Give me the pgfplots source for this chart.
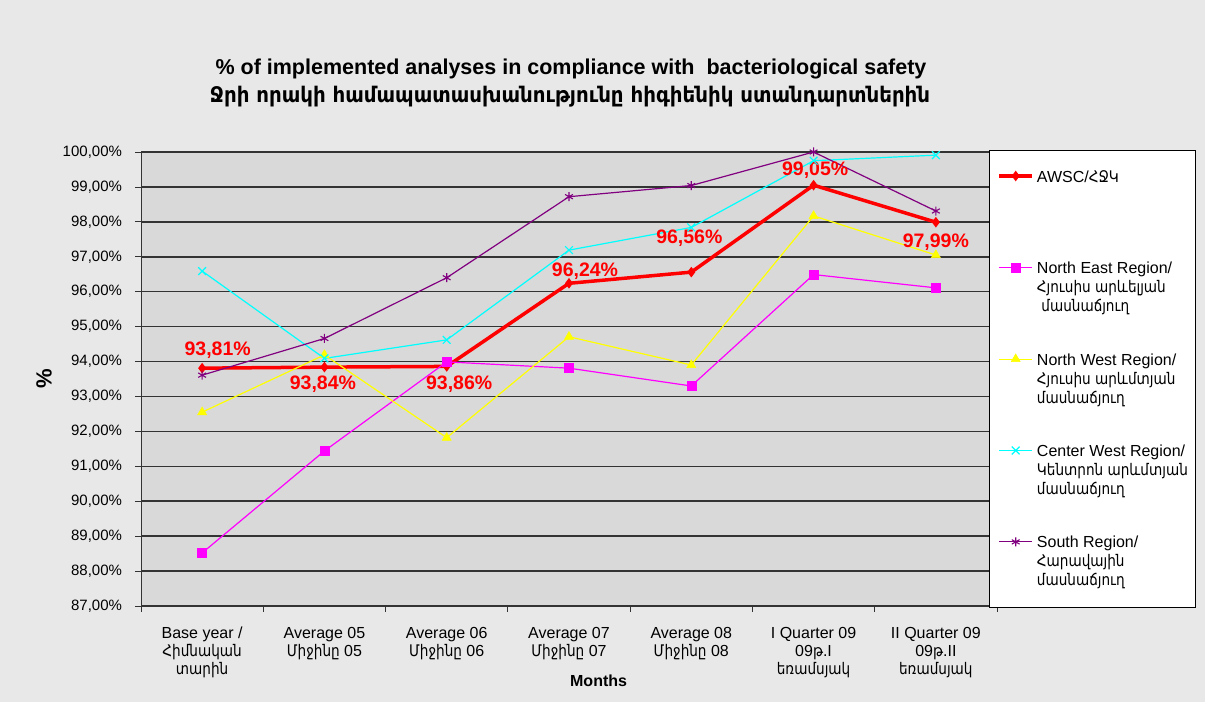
\documentclass[border=0pt]{standalone}
\usepackage{fontspec}
\setmainfont{Liberation Sans}
\newfontfamily\arm{DejaVu Sans}[FakeStretch=0.85]
\newfontfamily\armt{DejaVu Sans}[FakeStretch=0.92]
\usepackage{pgfplots}
\pgfplotsset{compat=1.18}
\definecolor{bgc}{HTML}{E8E8E8}
\definecolor{plotbg}{HTML}{D9D9D9}
\definecolor{mag}{HTML}{FF00FF}
\definecolor{yel}{HTML}{FFFF00}
\definecolor{cya}{HTML}{00FFFF}
\definecolor{pur}{HTML}{800080}
\begin{document}
\begin{tikzpicture}
\useasboundingbox (0,0) rectangle (1205pt,702pt);
\fill[bgc] (0,0) rectangle (1205pt,702pt);
\begin{axis}[
  at={(141pt,96pt)}, anchor=south west,
  scale only axis, width=856pt, height=454pt,
  xmin=-0.5, xmax=6.5, ymin=87, ymax=100,
  clip=false,
  axis background/.style={fill=plotbg},
  axis line style={black!80, line width=1pt},
  tick align=outside, major tick length=5.5pt,
  xtick pos=left, ytick pos=left,
  ytick={87,88,...,100},
  ymajorgrids, grid style={black!80, line width=1.6pt},
  tick style={black!80, line width=0.8pt},
  yticklabel={\pgfmathprintnumber[fixed,fixed zerofill,precision=2,use comma,assume math mode=true]{\tick}\%},
  yticklabel style={font=\fontsize{15}{18}\selectfont, xshift=-10pt},
  xtick={0,...,6},
  xtick style={draw=none},
  xticklabels={
    {Base year /\\{\arm Հիմնական}\\{\arm տարին}},
    {Average 05\\{\arm Միջինը} 05},
    {Average 06\\{\arm Միջինը} 06},
    {Average 07\\{\arm Միջինը} 07},
    {Average 08\\{\arm Միջինը} 08},
    {I Quarter 09\\09{\arm թ}.I\\{\arm եռամսյակ}},
    {II Quarter 09\\09{\arm թ}.II\\{\arm եռամսյակ}}},
  xticklabel style={align=center, anchor=north, yshift=-12pt, font=\fontsize{16}{18}\selectfont},
  extra x ticks={-0.5,0.5,1.5,2.5,3.5,4.5,5.5,6.5},
  extra x tick labels={},
  extra x tick style={grid=none, xtick style={draw=black!80}},
  legend image code/.code={\draw[mark repeat=2,mark phase=2,#1] plot coordinates {(0pt,0pt) (16.5pt,0pt) (33pt,0pt)};},
  legend style={at={(0.99065,1.0044)}, anchor=north west, draw=black, line width=0.9pt, fill=white,
    inner xsep=8pt, inner ysep=20pt, row sep=40.3pt, column sep=3pt,
    cells={anchor=north west},
    nodes={inner sep=0pt, yshift=6pt, align=left, font=\fontsize{16}{19}\selectfont}},
]
\addplot[red, line width=3.5pt, mark=diamond*, mark size=4.5pt, mark options={solid, line width=1pt}] coordinates {
 (0,93.81) (1,93.84) (2,93.86) (3,96.24) (4,96.56) (5,99.05) (6,97.99)};
\addlegendentry{AWSC/{\arm ՀՋԿ}\\\mbox{}\\\mbox{}}
\addplot[mag, line width=1.2pt, mark=square*, mark size=4.5pt, mark options={solid, line width=0.5pt}] coordinates {
 (0,88.52) (1,91.44) (2,93.99) (3,93.81) (4,93.30) (5,96.49) (6,96.11)};
\addlegendentry{North East Region/\\{\arm Հյուսիս արևելյան}\\\ {\arm մասնաճյուղ}}
\addplot[yel, line width=1.2pt, mark=triangle*, mark size=5.2pt, mark options={solid, line width=0.5pt}] coordinates {
 (0,92.55) (1,94.19) (2,91.82) (3,94.71) (4,93.90) (5,98.17) (6,97.05)};
\addlegendentry{North West Region/\\{\arm Հյուսիս արևմտյան}\\{\arm մասնաճյուղ}}
\addplot[cya, line width=1.2pt, mark=x, mark size=5.5pt, mark options={solid, line width=1.2pt}] coordinates {
 (0,96.59) (1,94.09) (2,94.62) (3,97.19) (4,97.84) (5,99.75) (6,99.91)};
\addlegendentry{Center West Region/\\{\arm Կենտրոն արևմտյան}\\{\arm մասնաճյուղ}}
\addplot[pur, line width=1.2pt, mark=asterisk, mark size=4.5pt, mark options={solid, line width=1.1pt}] coordinates {
 (0,93.61) (1,94.66) (2,96.40) (3,98.72) (4,99.04) (5,100.0) (6,98.31)};
\addlegendentry{South Region/\\{\arm Հարավային}\\{\arm\raisebox{0pt}[\height][0pt]{մասնաճյուղ}}}
\begin{scope}[every node/.style={font=\bfseries\fontsize{19.5}{20}\selectfont, text=red}]
\node at (axis cs:0.127,94.315) {93,81\%};
\node at (axis cs:0.988,93.343) {93,84\%};
\node at (axis cs:2.102,93.343) {93,86\%};
\node at (axis cs:3.131,96.592) {96,24\%};
\node at (axis cs:3.984,97.538) {96,56\%};
\node at (axis cs:5.013,99.493) {99,05\%};
\node at (axis cs:6.0,97.408) {97,99\%};
\end{scope}
\end{axis}
\node[anchor=base, font=\bfseries\fontsize{21.5}{24}\selectfont] at (571pt,627pt) {\% of implemented analyses in compliance with\ \ bacteriological safety};
\node[anchor=base, font=\bfseries\fontsize{21.5}{24}\selectfont] at (570pt,599pt) {\armt Ջրի որակի համապատասխանությունը հիգիենիկ ստանդարտներին};
\node[rotate=90, font=\bfseries\fontsize{22}{24}\selectfont] at (44pt,323pt) {\%};
\node[font=\bfseries\fontsize{16}{18}\selectfont] at (598.6pt,21.5pt) {Months};
\end{tikzpicture}
\end{document}
